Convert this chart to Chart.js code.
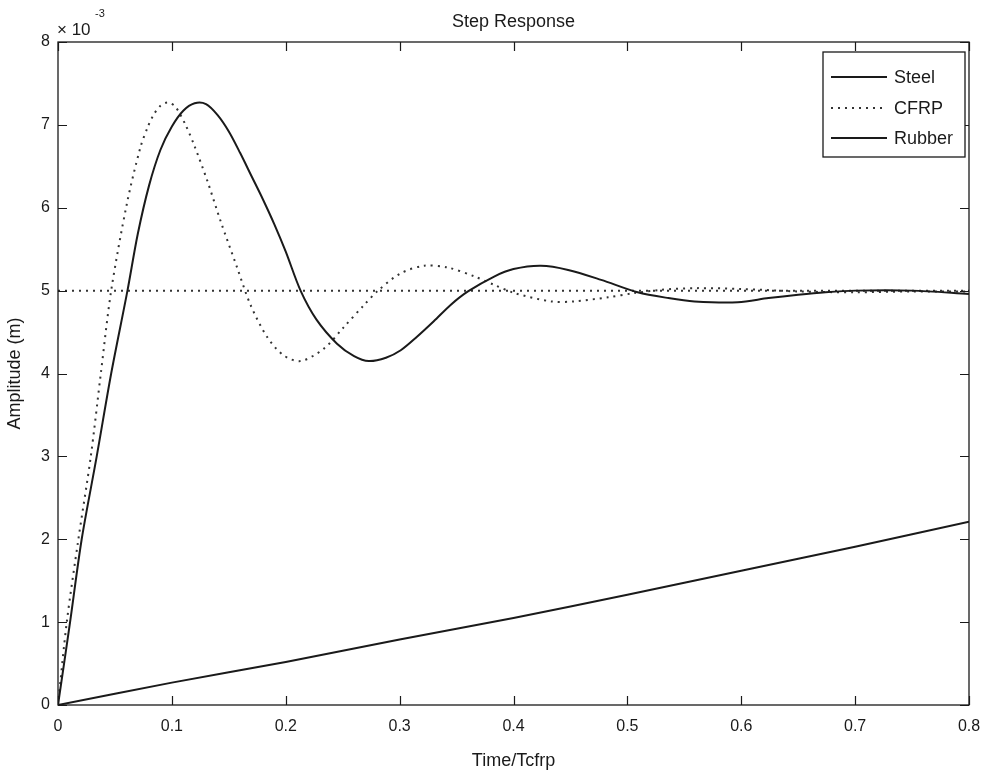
<!DOCTYPE html>
<html>
<head>
<meta charset="utf-8">
<script src="https://cdn.jsdelivr.net/npm/chart.js@4.4.0/dist/chart.umd.min.js"></script>
<style>
  html, body { margin: 0; padding: 0; background: #fff; }
  #wrap { width: 985px; height: 776px; }
</style>
</head>
<body>
<div id="wrap"><canvas id="stepChart"></canvas></div>
<script>
// time axis in units of Tcfrp, amplitude in 1e-3 m
var steelT = [0, 0.0106, 0.0208, 0.034, 0.0467, 0.061, 0.07, 0.08, 0.09, 0.1, 0.11, 0.12, 0.13, 0.14, 0.15, 0.16, 0.17, 0.18, 0.19, 0.2, 0.213, 0.227, 0.245, 0.26, 0.273, 0.288, 0.301, 0.315, 0.33, 0.345, 0.36, 0.383, 0.4, 0.424, 0.448, 0.477, 0.509, 0.536, 0.559, 0.597, 0.624, 0.65, 0.674, 0.7, 0.75, 0.8];
var steelY = [0, 1, 2, 3, 4, 5, 5.68, 6.27, 6.7, 6.98, 7.17, 7.26, 7.25, 7.12, 6.92, 6.66, 6.38, 6.1, 5.8, 5.47, 5.0, 4.65, 4.36, 4.21, 4.15, 4.19, 4.28, 4.44, 4.63, 4.83, 4.99, 5.17, 5.26, 5.3, 5.25, 5.13, 4.98, 4.91, 4.87, 4.86, 4.91, 4.95, 4.98, 5.0, 5.0, 4.96];

var cfrpT = [0, 0.0077, 0.0179, 0.0288, 0.0376, 0.0467, 0.0605, 0.0722, 0.079, 0.0839, 0.09, 0.0962, 0.103, 0.112, 0.12, 0.131, 0.143, 0.157, 0.169, 0.1837, 0.198, 0.213, 0.2335, 0.251, 0.269, 0.281, 0.301, 0.3216, 0.342, 0.366, 0.383, 0.401, 0.433, 0.4536, 0.483, 0.506, 0.53, 0.56, 0.6, 0.65, 0.7, 0.75, 0.8];
var cfrpY = [0, 1, 2, 3, 4, 5, 6.05, 6.72, 6.98, 7.12, 7.23, 7.27, 7.22, 7.0, 6.74, 6.33, 5.83, 5.29, 4.83, 4.44, 4.22, 4.15, 4.3, 4.56, 4.83, 5.0, 5.21, 5.3, 5.28, 5.17, 5.07, 4.97, 4.87, 4.87, 4.92, 4.97, 5.01, 5.03, 5.02, 4.99, 4.98, 4.99, 4.99];

var rubberT = [0, 0.1, 0.2, 0.3, 0.4, 0.5, 0.6, 0.7, 0.8];
var rubberY = [0, 0.27, 0.52, 0.79, 1.05, 1.33, 1.62, 1.91, 2.21];

var finalT = [0, 0.8];
var finalY = [5, 5];

var seriesNames = ['Steel', 'CFRP', 'Rubber'];

function pts(t, y) {
    return t.map(function (v, i) { return { x: v, y: y[i] }; });
}

var FONT = '"Liberation Sans", Arial, sans-serif';
var INK = '#1a1a1a';

var framePlugin = {
    id: 'frame',
    afterDraw: function (chart) {
        var ctx = chart.ctx;
        var a = chart.chartArea;
        var xs = chart.scales.x, ys = chart.scales.y;
        ctx.save();
        ctx.strokeStyle = INK;
        ctx.lineWidth = 1.3;
        ctx.strokeRect(a.left, a.top, a.right - a.left, a.bottom - a.top);
        ctx.lineWidth = 1.2;
        ctx.beginPath();
        xs.ticks.forEach(function (t) {
            var px = Math.round(xs.getPixelForValue(t.value)) + 0.5;
            ctx.moveTo(px, a.bottom); ctx.lineTo(px, a.bottom - 9);
            ctx.moveTo(px, a.top); ctx.lineTo(px, a.top + 9);
        });
        ys.ticks.forEach(function (t) {
            var py = Math.round(ys.getPixelForValue(t.value)) + 0.5;
            ctx.moveTo(a.left, py); ctx.lineTo(a.left + 9, py);
            ctx.moveTo(a.right, py); ctx.lineTo(a.right - 9, py);
        });
        ctx.stroke();

        // title and exponent
        ctx.fillStyle = INK;
        ctx.font = '18px ' + FONT;
        ctx.textAlign = 'center';
        ctx.textBaseline = 'middle';
        ctx.fillText('Step Response', (a.left + a.right) / 2, 22);
        ctx.textAlign = 'left';
        ctx.font = '17px ' + FONT;
        ctx.fillText('\u00d7 10', a.left - 1, 30);
        ctx.font = '11px ' + FONT;
        ctx.fillText('-3', a.left + 37, 14);

        // legend
        var bx = a.right - 146, by = a.top + 10, bw = 142, bh = 105;
        ctx.fillStyle = '#fff';
        ctx.fillRect(bx, by, bw, bh);
        ctx.lineWidth = 1.3;
        ctx.strokeStyle = INK;
        ctx.strokeRect(bx, by, bw, bh);
        ctx.font = '18px ' + FONT;
        ctx.textBaseline = 'middle';
        var rows = [by + 25, by + 56, by + 86];
        seriesNames.forEach(function (name, i) {
            var ds = chart.data.datasets[i];
            ctx.save();
            ctx.strokeStyle = ds.borderColor;
            ctx.lineWidth = ds.borderWidth;
            ctx.setLineDash(ds.borderDash || []);
            ctx.beginPath();
            ctx.moveTo(bx + 8, rows[i]);
            ctx.lineTo(bx + 64, rows[i]);
            ctx.stroke();
            ctx.restore();
            ctx.fillStyle = INK;
            ctx.fillText(name, bx + 71, rows[i] + 1);
        });
        ctx.restore();
    }
};

var ctx = document.getElementById('stepChart').getContext('2d');
var stepChart = new Chart(ctx, {
    type: 'line',
    data: {
        datasets: [{
            label: seriesNames[0],
            data: pts(steelT, steelY),
            borderColor: INK,
            borderWidth: 2,
            pointRadius: 0,
            tension: 0.3
        }, {
            label: seriesNames[1],
            data: pts(cfrpT, cfrpY),
            borderColor: '#333',
            borderWidth: 2,
            borderDash: [2, 5],
            pointRadius: 0,
            tension: 0.3
        }, {
            label: seriesNames[2],
            data: pts(rubberT, rubberY),
            borderColor: INK,
            borderWidth: 2,
            pointRadius: 0,
            tension: 0.3
        }, {
            label: 'final value',
            data: pts(finalT, finalY),
            borderColor: '#333',
            borderWidth: 2,
            borderDash: [2, 5],
            pointRadius: 0
        }]
    },
    options: {
        responsive: true,
        maintainAspectRatio: false,
        animation: false,
        layout: { padding: { top: 42, right: 16, left: 0, bottom: 0 } },
        plugins: {
            legend: { display: false },
            tooltip: { enabled: false }
        },
        scales: {
            x: {
                type: 'linear',
                min: 0,
                max: 0.8,
                grid: { display: false, drawTicks: false },
                border: { display: false },
                ticks: { stepSize: 0.1, color: INK, font: { family: FONT, size: 16 }, padding: 12, maxRotation: 0 },
                title: { display: true, text: 'Time/Tcfrp', color: INK, font: { family: FONT, size: 18 }, padding: { top: 6 } },
                afterFit: function (s) { s.height = 71; s.paddingLeft = 0; s.paddingRight = 0; }
            },
            y: {
                min: 0,
                max: 8,
                grid: { display: false, drawTicks: false },
                border: { display: false },
                ticks: { stepSize: 1, color: INK, font: { family: FONT, size: 16 }, padding: 8 },
                title: { display: true, text: 'Amplitude (m)', color: INK, font: { family: FONT, size: 18 }, padding: { bottom: 10 } },
                afterFit: function (s) { s.width = 58; s.paddingTop = 0; s.paddingBottom = 0; }
            }
        }
    },
    plugins: [framePlugin]
});
</script>
</body>
</html>
